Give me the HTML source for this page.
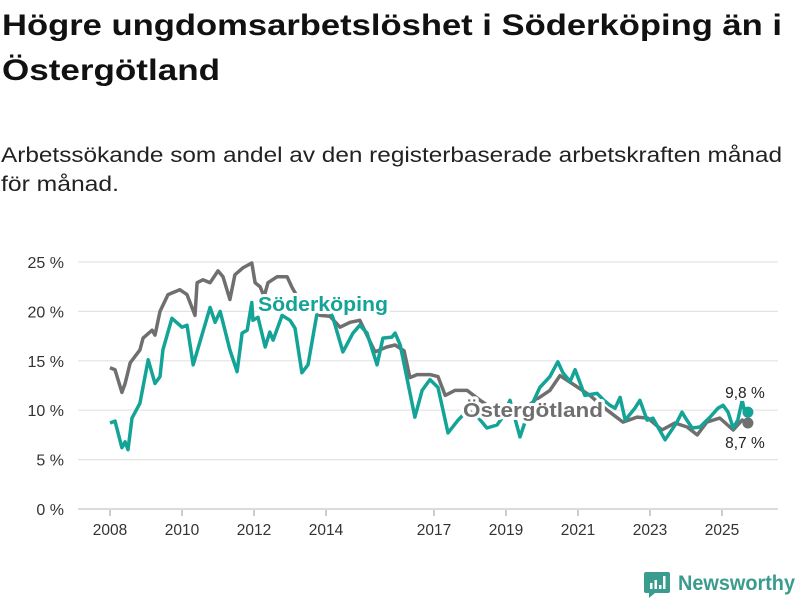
<!DOCTYPE html>
<html><head><meta charset="utf-8"><style>
html,body{margin:0;padding:0;background:#fff;}
svg{display:block;font-family:"Liberation Sans",sans-serif;}
</style></head><body>
<svg id="chart" width="800" height="600" viewBox="0 0 800 600" xmlns="http://www.w3.org/2000/svg">
<text x="2" y="35" font-size="30" font-weight="bold" fill="#111" textLength="780" lengthAdjust="spacingAndGlyphs">Högre ungdomsarbetslöshet i Söderköping än i</text>
<text x="2" y="80" font-size="30" font-weight="bold" fill="#111" textLength="218" lengthAdjust="spacingAndGlyphs">Östergötland</text>
<text x="1" y="162" font-size="21" fill="#222" textLength="781" lengthAdjust="spacingAndGlyphs">Arbetssökande som andel av den registerbaserade arbetskraften månad</text>
<text x="1" y="191" font-size="21" fill="#222" textLength="118" lengthAdjust="spacingAndGlyphs">för månad.</text>
<g id="grid"></g>
<g id="yaxis"></g>
<g id="xaxis"></g>
<g id="series"></g>
<g id="labels"></g>
<g>
<path d="M646 572 h22 a2 2 0 0 1 2 2 v17 a2 2 0 0 1 -2 2 h-13 l-6 5 v-5 h-3 a2 2 0 0 1 -2 -2 v-17 a2 2 0 0 1 2 -2z" fill="#3a9c8e"/>
<rect x="650" y="583" width="2.5" height="6" fill="#fff"/><rect x="654.5" y="580" width="2.5" height="9" fill="#fff"/><rect x="659" y="585" width="2.5" height="4" fill="#fff"/><rect x="663" y="576" width="2.5" height="13" fill="#fff"/>
<text x="678" y="590" font-size="21" font-weight="bold" fill="#3a9c8e" textLength="117" lengthAdjust="spacingAndGlyphs">Newsworthy</text>
</g>
</svg>
<script>
const yTicks = [0,5,10,15,20,25];
const yTickLabels = ["0 %","5 %","10 %","15 %","20 %","25 %"];
const xTicks = [2008,2010,2012,2014,2017,2019,2021,2023,2025];
const ostDates = [2008.00,2008.14,2008.33,2008.42,2008.56,2008.83,2008.92,2009.17,2009.25,2009.39,2009.61,2009.94,2010.14,2010.36,2010.42,2010.58,2010.78,2011.00,2011.14,2011.33,2011.47,2011.69,2011.94,2012.03,2012.17,2012.28,2012.39,2012.64,2012.92,2013.06,2013.28,2013.56,2013.83,2014.11,2014.39,2014.67,2014.94,2015.36,2015.69,2015.92,2016.17,2016.33,2016.53,2016.89,2017.11,2017.31,2017.58,2017.92,2018.28,2018.69,2019.11,2019.39,2019.81,2020.22,2020.50,2020.92,2021.33,2021.81,2022.25,2022.64,2022.94,2023.33,2023.69,2024.03,2024.31,2024.58,2024.94,2025.31,2025.56,2025.72];
const ostValues = [14.3,14.1,11.8,12.7,14.8,16.1,17.3,18.1,17.6,20,21.7,22.2,21.7,19.6,22.9,23.2,22.9,24.1,23.5,21.2,23.7,24.4,24.9,22.9,22.5,21.5,22.9,23.5,23.5,22.4,21,20.5,19.6,19.5,18.4,18.9,19.1,15.9,16.4,16.6,16.0,13.3,13.6,13.6,13.4,11.5,12,12,11,10,9.6,9.8,11,12,13.5,12.5,11.5,10,8.8,9.3,9.2,8,8.7,8.3,7.5,8.8,9.2,8.0,9.0,8.7];
const sodDates = [2008.00,2008.14,2008.33,2008.42,2008.50,2008.61,2008.83,2009.06,2009.25,2009.39,2009.47,2009.72,2010.00,2010.14,2010.31,2010.78,2010.92,2011.06,2011.33,2011.53,2011.67,2011.81,2011.94,2011.97,2012.11,2012.31,2012.44,2012.53,2012.78,2013.00,2013.14,2013.33,2013.50,2013.75,2013.94,2014.19,2014.47,2014.75,2014.94,2015.14,2015.42,2015.58,2015.83,2015.92,2016.06,2016.47,2016.67,2016.89,2017.11,2017.39,2017.67,2017.94,2018.22,2018.47,2018.75,2018.89,2019.11,2019.39,2019.61,2019.94,2020.22,2020.44,2020.58,2020.78,2020.92,2021.19,2021.53,2021.72,2021.89,2022.03,2022.17,2022.31,2022.58,2022.72,2022.92,2023.08,2023.42,2023.75,2023.89,2023.97,2024.17,2024.39,2024.67,2024.89,2025.03,2025.17,2025.31,2025.44,2025.56,2025.64,2025.72];
const sodValues = [8.7,8.9,6.2,6.8,6.0,9.2,10.7,15.1,12.7,13.4,16.1,19.3,18.4,18.6,14.6,20.4,18.9,20,16.1,13.9,17.8,18.1,20.9,19.1,19.4,16.4,17.9,17.1,19.6,19.1,18.3,13.8,14.6,19.8,21.2,19.4,15.9,17.8,18.6,17.8,14.6,17.3,17.4,17.8,16.6,9.3,12,13.1,12.3,7.7,9.0,10,9.3,8.2,8.5,9.2,11,7.3,9.7,12.3,13.4,14.9,13.8,12.9,14.1,11.5,11.7,11,10.5,10.2,11.3,9.0,10.2,11,9.0,9.2,7.0,8.8,9.8,9.3,8.2,8.3,9.3,10.2,10.5,9.8,8.2,9.0,11,9.7,9.8];
const lastLabels = ["9,8 %","8,7 %"];

const NS="http://www.w3.org/2000/svg";
const xS = d => 110 + (d-2008)*36;
const yS = v => 509 - v*9.88;
function mk(tag, parent){const e=document.createElementNS(NS,tag);document.getElementById(parent).appendChild(e);return e;}

yTicks.forEach((t,i)=>{
  const l=mk('line','grid');
  
  
  l.setAttribute('x1',78);l.setAttribute('x2',778);l.setAttribute('y1',yS(t));l.setAttribute('y2',yS(t));
  l.setAttribute('stroke', t===0?'#cfcfcf':'#e3e3e3');l.setAttribute('stroke-width',t===0?1.5:1.2);
  const tx=mk('text','yaxis');
  
  
  tx.setAttribute('x',64);tx.setAttribute('y',yS(t)+6);tx.setAttribute('text-anchor','end');
  tx.setAttribute('font-size','16');tx.setAttribute('fill','#333');tx.textContent=yTickLabels[i];
});
xTicks.forEach(t=>{
  const l=mk('line','xaxis');
  
  
  l.setAttribute('x1',xS(t));l.setAttribute('x2',xS(t));l.setAttribute('y1',510);l.setAttribute('y2',516);
  l.setAttribute('stroke','#999');l.setAttribute('stroke-width',1);
  const tx=mk('text','xaxis');
  
  
  tx.setAttribute('x',xS(t));tx.setAttribute('y',535);tx.setAttribute('text-anchor','middle');
  tx.setAttribute('font-size','15.5');tx.setAttribute('fill','#333');tx.textContent=t;
});
function drawLine(dates, vals, color, name){
  const p=mk('path','series');
  
  
  p.setAttribute('d',dates.map((d,i)=>(i?'L':'M')+xS(d).toFixed(1)+' '+yS(vals[i]).toFixed(1)).join(' '));
  p.setAttribute('fill','none');p.setAttribute('stroke',color);p.setAttribute('stroke-width',3.5);
  p.setAttribute('stroke-linejoin','round');
  const c=mk('circle','series');
  
  
  c.setAttribute('cx',xS(dates[dates.length-1]));c.setAttribute('cy',yS(vals[vals.length-1]));c.setAttribute('r',5.5);c.setAttribute('fill',color);
}
drawLine(ostDates, ostValues, '#6f6f6f', 'ostergotland-line');
drawLine(sodDates, sodValues, '#14a397', 'soderkoping-line');

function label(txt,x,y,color,name,size,bold,anchor,len){
  const t=mk('text','labels');
  
  
  t.setAttribute('x',x);t.setAttribute('y',y);t.setAttribute('font-size',size);
  if(bold)t.setAttribute('font-weight','bold');
  t.setAttribute('text-anchor',anchor||'start');
  if(len){t.setAttribute('textLength',len);t.setAttribute('lengthAdjust','spacingAndGlyphs');}
  t.setAttribute('fill',color);t.setAttribute('stroke','#fff');t.setAttribute('stroke-width',6);
  t.setAttribute('paint-order','stroke');t.setAttribute('stroke-linejoin','round');
  t.textContent=txt;
}
label('Söderköping',258,311,'#14a397','soderkoping-label',20,true,'start',130);
label('Östergötland',463,417,'#6f6f6f','ostergotland-label',20,true,'start',140);
const lx=xS(sodDates[sodDates.length-1]);
label(lastLabels[0],lx-3,yS(sodValues[sodValues.length-1])-14,'#222','soderkoping-last-value',15.5,false,'middle');
label(lastLabels[1],lx-3,yS(ostValues[ostValues.length-1])+25,'#222','ostergotland-last-value',15.5,false,'middle');
</script>
</body></html>
